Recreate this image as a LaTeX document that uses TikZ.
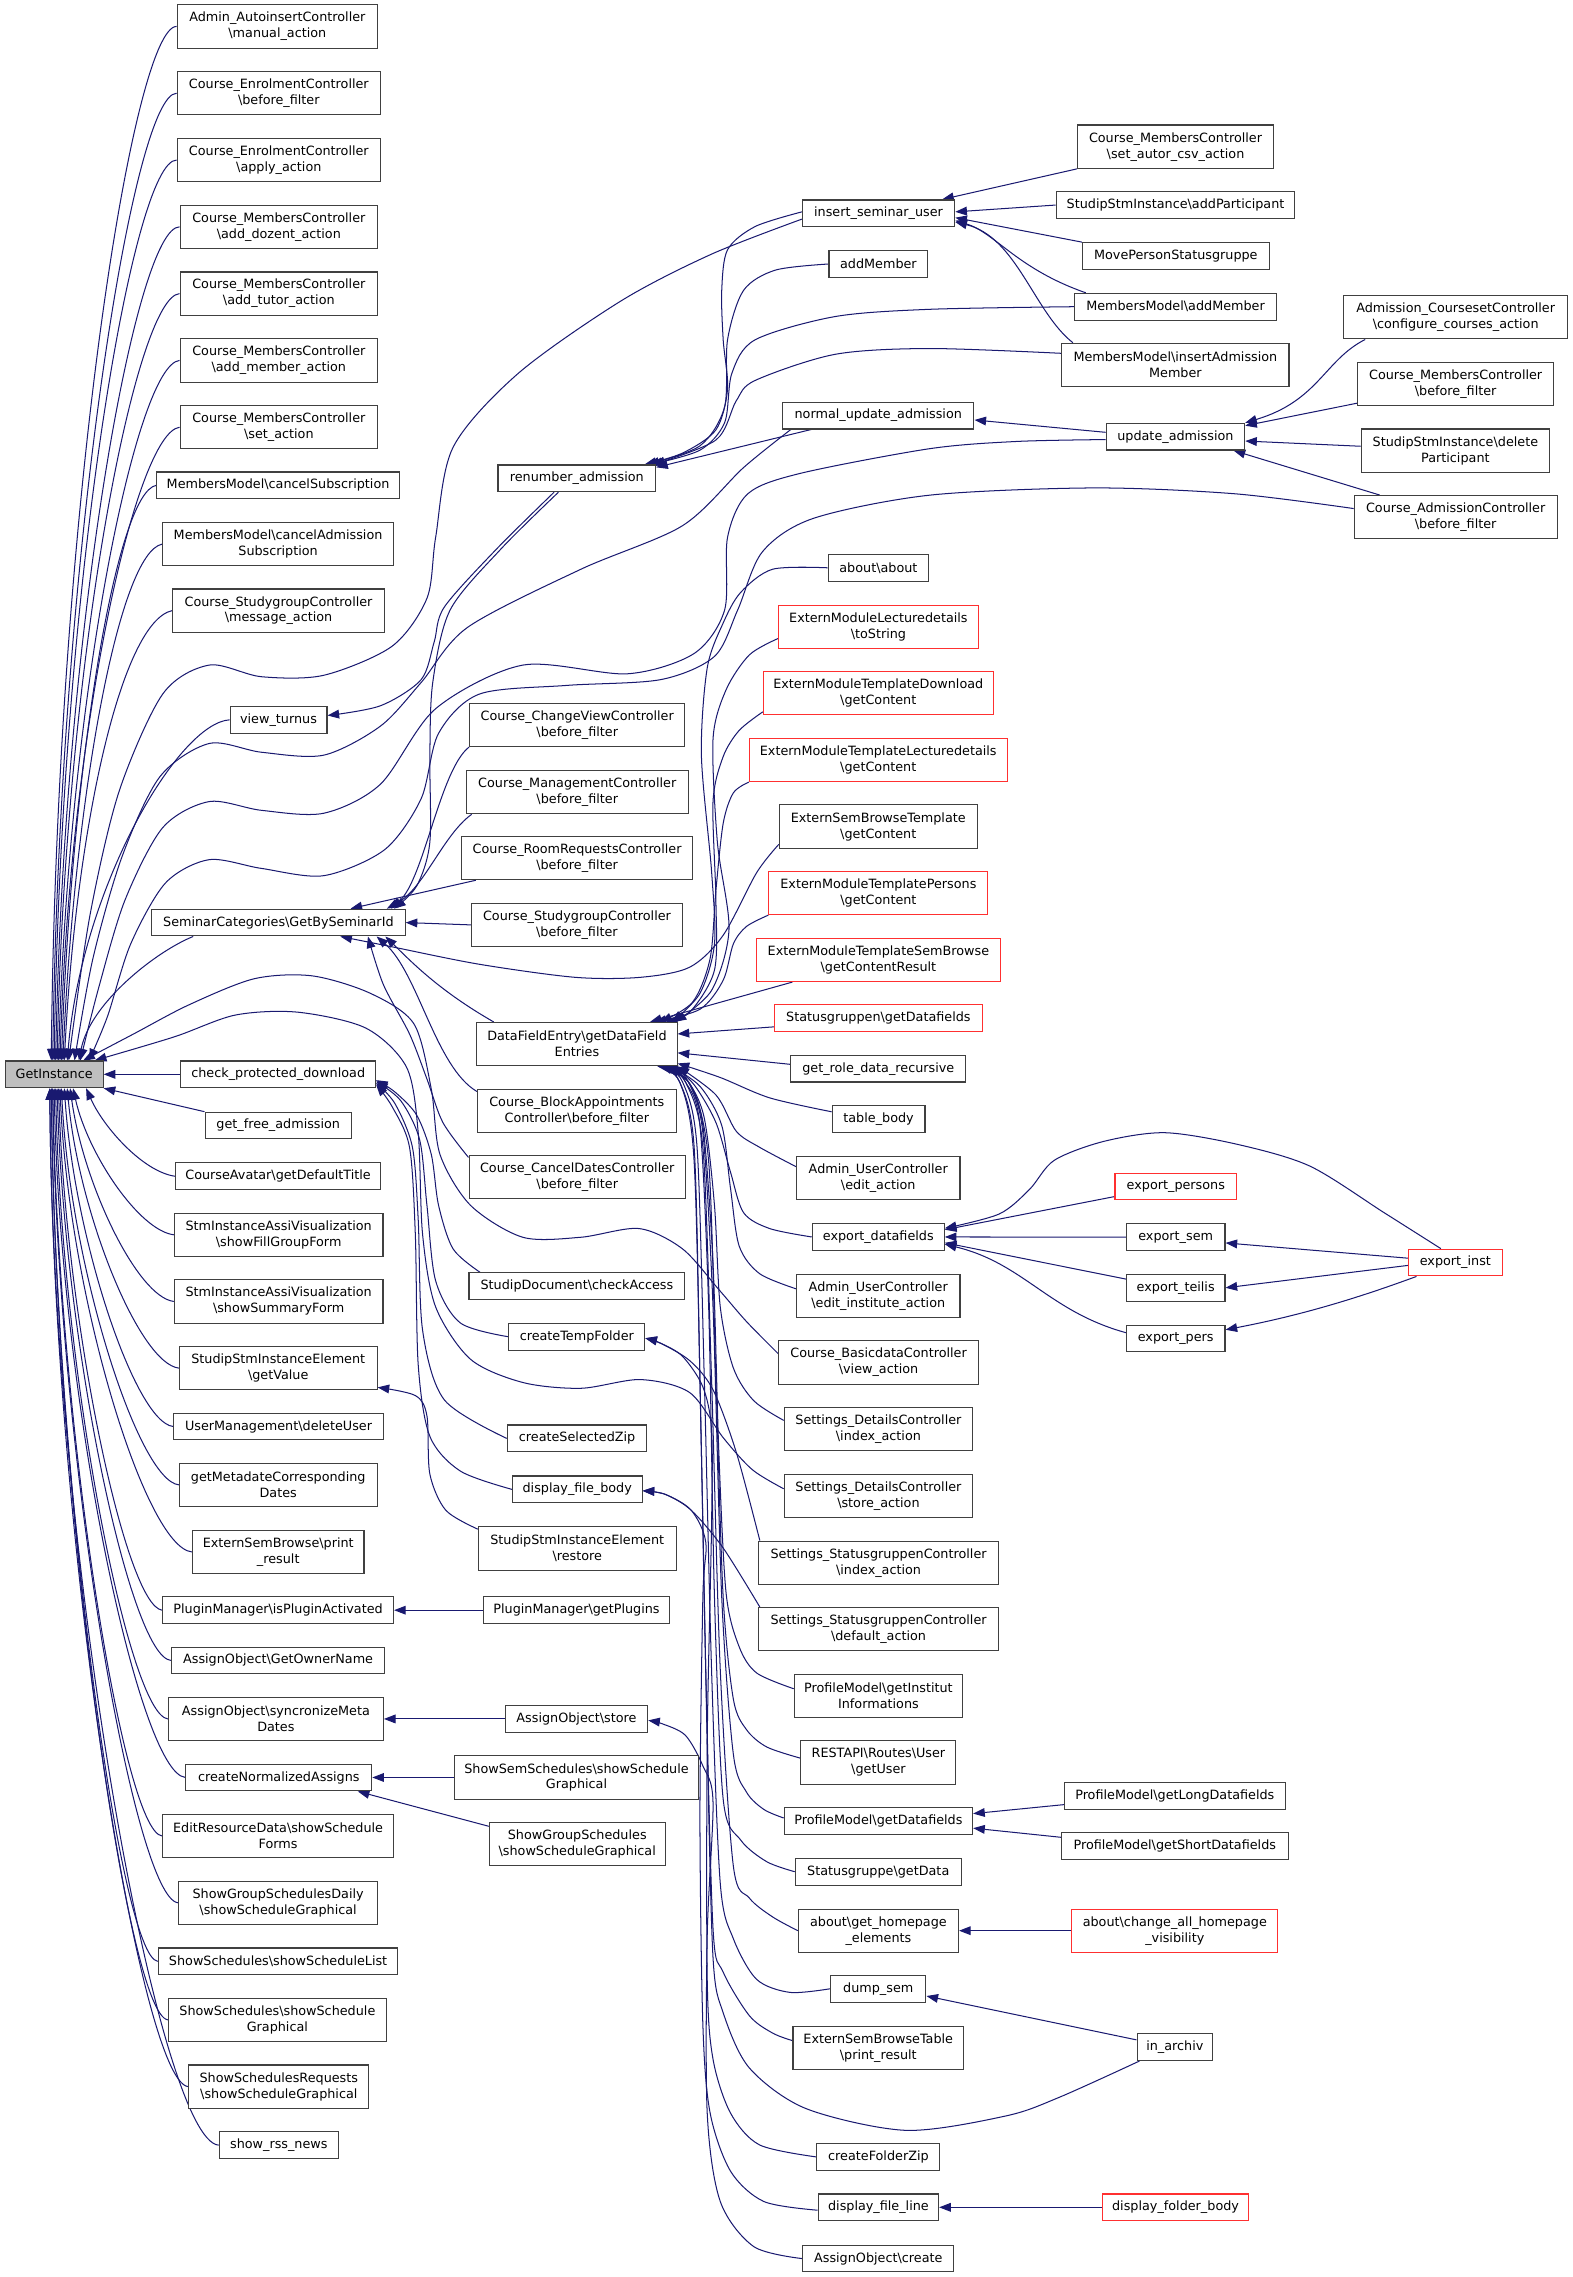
\documentclass[tikz,border=0pt]{standalone}
\usepackage{fontspec}
\setmainfont{DejaVu Sans}
\usetikzlibrary{arrows.meta}
\definecolor{edgec}{HTML}{191970}
\definecolor{bord}{HTML}{404040}
\definecolor{redb}{HTML}{FF3030}
\definecolor{gifill}{HTML}{BFBFBF}
\newcommand\bsl{\textbackslash}
\newcommand\nd[7]{\node[#1, minimum width=#5pt, minimum height=#6pt] (#2) at (#3,#4) {#7};}
\pgfdeclarelayer{bg}
\pgfsetlayers{bg,main}
\begin{document}
\begin{tikzpicture}[x=1pt,y=-1pt,
  bx/.style={draw=bord, line width=0.75pt, fill=white, inner sep=0pt, align=center, font=\fontsize{8.8}{11}\selectfont},
  rb/.style={bx, draw=redb},
  gbx/.style={bx, fill=gifill},
  edg/.style={draw=edgec, line width=0.7pt, -{Triangle[length=8pt,width=6pt]}}]
\useasboundingbox (0,0) rectangle (1083,1568);
% ---------- column 1
\nd{gbx}{gi}{37.3}{739.8}{67.4}{18.4}{GetInstance}
\nd{bx}{c1}{191}{18.2}{138}{29.8}{Admin\_AutoinsertController\\ \bsl manual\_action}
\nd{bx}{c2}{192}{64.2}{140}{29.8}{Course\_EnrolmentController\\ \bsl before\_filter}
\nd{bx}{c3}{192}{110.2}{140}{29.8}{Course\_EnrolmentController\\ \bsl apply\_action}
\nd{bx}{c4}{192}{156.2}{136}{29.8}{Course\_MembersController\\ \bsl add\_dozent\_action}
\nd{bx}{c5}{192}{202.2}{136}{29.8}{Course\_MembersController\\ \bsl add\_tutor\_action}
\nd{bx}{c6}{192}{248.2}{136}{29.8}{Course\_MembersController\\ \bsl add\_member\_action}
\nd{bx}{c7}{192}{294.2}{136}{29.8}{Course\_MembersController\\ \bsl set\_action}
\nd{bx}{c8}{191.5}{334.2}{167}{18.4}{MembersModel\bsl cancelSubscription}
\nd{bx}{c9}{191.5}{374.7}{159}{29.8}{MembersModel\bsl cancelAdmission\\ Subscription}
\nd{bx}{c10}{191.8}{420.5}{146}{29.8}{Course\_StudygroupController\\ \bsl message\_action}
\nd{bx}{c11}{191.8}{495.7}{66.7}{18.4}{view\_turnus}
\nd{bx}{c12}{191.7}{635.3}{174.6}{18.4}{SeminarCategories\bsl GetBySeminarId}
\nd{bx}{c14}{191.6}{739.8}{134}{18.4}{check\_protected\_download}
\nd{bx}{c15}{191.6}{775.1}{100.8}{18.4}{get\_free\_admission}
\nd{bx}{c16}{191.5}{810}{141}{18.4}{CourseAvatar\bsl getDefaultTitle}
\nd{bx}{c17}{191.9}{850.3}{143.7}{29.8}{StmInstanceAssiVisualization\\ \bsl showFillGroupForm}
\nd{bx}{c18}{191.9}{896.2}{143.7}{29.8}{StmInstanceAssiVisualization\\ \bsl showSummaryForm}
\nd{bx}{c19}{191.6}{942.1}{136.1}{29.8}{StudipStmInstanceElement\\ \bsl getValue}
\nd{bx}{c20}{191.8}{982.3}{144.5}{18.4}{UserManagement\bsl deleteUser}
\nd{bx}{c21}{191.6}{1022.5}{136.1}{29.8}{getMetadateCorresponding\\ Dates}
\nd{bx}{c22}{191.6}{1068.7}{118.1}{29.8}{ExternSemBrowse\bsl print\\ \_result}
\nd{bx}{c23}{191.5}{1108.8}{159}{18.4}{PluginManager\bsl isPluginActivated}
\nd{bx}{c24}{191.5}{1143.4}{147}{18.4}{AssignObject\bsl GetOwnerName}
\nd{bx}{c25}{190}{1183.7}{148}{29.8}{AssignObject\bsl syncronizeMeta\\ Dates}
\nd{bx}{c26}{192}{1224}{128}{18.4}{createNormalizedAssigns}
\nd{bx}{c27}{191.5}{1264.3}{159}{29.8}{EditResourceData\bsl showSchedule\\ Forms}
\nd{bx}{c28}{191.5}{1310.3}{137}{29.8}{ShowGroupSchedulesDaily\\ \bsl showScheduleGraphical}
\nd{bx}{c29}{191.5}{1350.6}{165}{18.4}{ShowSchedules\bsl showScheduleList}
\nd{bx}{c30}{191}{1390.9}{150}{29.8}{ShowSchedules\bsl showSchedule\\ Graphical}
\nd{bx}{c31}{192}{1436.9}{124}{29.8}{ShowSchedulesRequests\\ \bsl showScheduleGraphical}
\nd{bx}{c32}{192}{1477.2}{82}{18.4}{show\_rss\_news}
% ---------- column 2
\nd{bx}{r2}{397.2}{329.4}{108.6}{18.4}{renumber\_admission}
\nd{bx}{cv}{397.5}{499.2}{148.3}{29.8}{Course\_ChangeViewController\\ \bsl before\_filter}
\nd{bx}{mgmt}{397.5}{545.5}{152.7}{29.8}{Course\_ManagementController\\ \bsl before\_filter}
\nd{bx}{room}{397.4}{590.9}{158.8}{29.8}{Course\_RoomRequestsController\\ \bsl before\_filter}
\nd{bx}{sgbf}{397.3}{636.9}{145.1}{29.8}{Course\_StudygroupController\\ \bsl before\_filter}
\nd{bx}{dfe}{397.3}{719}{137.9}{29.8}{DataFieldEntry\bsl getDataField\\ Entries}
\nd{bx}{block}{397.2}{764.9}{136.8}{29.8}{Course\_BlockAppointments\\ Controller\bsl before\_filter}
\nd{bx}{cancel}{397.5}{810.3}{149}{29.8}{Course\_CancelDatesController\\ \bsl before\_filter}
\nd{bx}{checkacc}{397.3}{885.7}{148.7}{18.4}{StudipDocument\bsl checkAccess}
\nd{bx}{tempf}{397.2}{920.5}{93.6}{18.4}{createTempFolder}
\nd{bx}{selzip}{397.4}{990.5}{96.2}{18.4}{createSelectedZip}
\nd{bx}{dfb}{397.5}{1025.6}{89.3}{18.4}{display\_file\_body}
\nd{bx}{restore}{397.5}{1066.3}{136.1}{29.8}{StudipStmInstanceElement\\ \bsl restore}
\nd{bx}{getplugins}{397}{1108.8}{128}{18.4}{PluginManager\bsl getPlugins}
\nd{bx}{store}{397}{1183.7}{98}{18.4}{AssignObject\bsl store}
\nd{bx}{semsched}{397}{1224}{168}{29.8}{ShowSemSchedules\bsl showSchedule\\ Graphical}
\nd{bx}{grpsched}{397.5}{1269.9}{121}{29.8}{ShowGroupSchedules\\ \bsl showScheduleGraphical}
% ---------- column 3
\nd{bx}{isu}{605}{146.9}{104.9}{18.4}{insert\_seminar\_user}
\nd{bx}{addm}{604.9}{181.8}{68.1}{18.4}{addMember}
\nd{bx}{nua}{604.8}{286.2}{131.7}{18.4}{normal\_update\_admission}
\nd{bx}{about}{604.9}{391}{69.1}{18.4}{about\bsl about}
\nd{rb}{emlt}{604.9}{431.7}{137.5}{29.8}{ExternModuleLecturedetails\\ \bsl toString}
\nd{rb}{emtd}{604.8}{477.2}{158.3}{29.8}{ExternModuleTemplateDownload\\ \bsl getContent}
\nd{rb}{emtl}{604.8}{523.3}{177.5}{29.8}{ExternModuleTemplateLecturedetails\\ \bsl getContent}
\nd{bx}{esbt}{604.8}{569.2}{136.3}{29.8}{ExternSemBrowseTemplate\\ \bsl getContent}
\nd{rb}{emtp}{604.9}{614.9}{150.8}{29.8}{ExternModuleTemplatePersons\\ \bsl getContent}
\nd{rb}{emts}{604.9}{661}{167.7}{29.8}{ExternModuleTemplateSemBrowse\\ \bsl getContentResult}
\nd{rb}{sgdf}{604.9}{701.1}{142.9}{18.4}{Statusgruppen\bsl getDatafields}
\nd{bx}{grdr}{604.8}{735.9}{120.7}{18.4}{get\_role\_data\_recursive}
\nd{bx}{tbody}{605}{770.6}{63.9}{18.4}{table\_body}
\nd{bx}{uedit}{604.8}{811.4}{112.5}{29.8}{Admin\_UserController\\ \bsl edit\_action}
\nd{bx}{expdf}{604.8}{851.8}{90.9}{18.4}{export\_datafields}
\nd{bx}{uinst}{604.8}{892.5}{112.5}{29.8}{Admin\_UserController\\ \bsl edit\_institute\_action}
\nd{bx}{basic}{605}{938.3}{137.2}{29.8}{Course\_BasicdataController\\ \bsl view\_action}
\nd{bx}{sdindex}{604.9}{984.1}{129.7}{29.8}{Settings\_DetailsController\\ \bsl index\_action}
\nd{bx}{sdstore}{604.9}{1030.2}{129.7}{29.8}{Settings\_DetailsController\\ \bsl store\_action}
\nd{bx}{ssindex}{605}{1076.1}{164.8}{29.8}{Settings\_StatusgruppenController\\ \bsl index\_action}
\nd{bx}{ssdefault}{605}{1121.9}{164.8}{29.8}{Settings\_StatusgruppenController\\ \bsl default\_action}
\nd{bx}{pminst}{604.9}{1167.9}{115.9}{29.8}{ProfileModel\bsl getInstitut\\ Informations}
\nd{bx}{rest}{604.9}{1213.7}{106.7}{29.8}{RESTAPI\bsl Routes\bsl User\\ \bsl getUser}
\nd{bx}{pmdf}{604.9}{1253.9}{129.7}{18.4}{ProfileModel\bsl getDatafields}
\nd{bx}{sgdata}{604.8}{1288.9}{114.3}{18.4}{Statusgruppe\bsl getData}
\nd{bx}{homeel}{604.9}{1329.5}{110.3}{29.8}{about\bsl get\_homepage\\ \_elements}
\nd{bx}{dump}{604.8}{1369.5}{65.6}{18.4}{dump\_sem}
\nd{bx}{esbtable}{604.8}{1410.2}{117.5}{29.8}{ExternSemBrowseTable\\ \bsl print\_result}
\nd{bx}{cfz}{604.9}{1485.3}{84.7}{18.4}{createFolderZip}
\nd{bx}{dfl}{604.9}{1520}{82.9}{18.4}{display\_file\_line}
\nd{bx}{aocreate}{604.8}{1555.3}{104.1}{18.4}{AssignObject\bsl create}
% ---------- column 4
\nd{bx}{autorcsv}{809.5}{101}{134.9}{29.8}{Course\_MembersController\\ \bsl set\_autor\_csv\_action}
\nd{bx}{addpart}{809.5}{141.2}{164.3}{18.4}{StudipStmInstance\bsl addParticipant}
\nd{bx}{moveps}{809.7}{176.3}{128.7}{18.4}{MovePersonStatusgruppe}
\nd{bx}{mmadd}{809.5}{211.2}{138.9}{18.4}{MembersModel\bsl addMember}
\nd{bx}{mmins}{809.4}{251.3}{156.4}{29.8}{MembersModel\bsl insertAdmission\\ Member}
\nd{bx}{upadm}{809.4}{300.7}{95.4}{18.4}{update\_admission}
\nd{rb}{exppersons}{809.7}{817}{83.8}{18.4}{export\_persons}
\nd{bx}{expsem}{809.6}{851.9}{67.9}{18.4}{export\_sem}
\nd{bx}{expteilis}{809.6}{886.8}{67.9}{18.4}{export\_teilis}
\nd{bx}{exppers}{809.6}{921.7}{67.9}{18.4}{export\_pers}
\nd{bx}{pmlong}{809}{1236.7}{152}{18.4}{ProfileModel\bsl getLongDatafields}
\nd{bx}{pmshort}{809}{1271.2}{156}{18.4}{ProfileModel\bsl getShortDatafields}
\nd{rb}{chvis}{809}{1329.5}{142}{29.8}{about\bsl change\_all\_homepage\\ \_visibility}
\nd{bx}{inarch}{809}{1409.7}{52}{18.4}{in\_archiv}
\nd{rb}{dfolder}{809.5}{1520}{101}{18.4}{display\_folder\_body}
% ---------- column 5
\nd{bx}{acs}{1002.4}{218.5}{153.9}{29.8}{Admission\_CoursesetController\\ \bsl configure\_courses\_action}
\nd{bx}{cmbf}{1002.4}{264.4}{135.3}{29.8}{Course\_MembersController\\ \bsl before\_filter}
\nd{bx}{sdel}{1002.2}{310.3}{129.8}{29.8}{StudipStmInstance\bsl delete\\ Participant}
\nd{bx}{cabf}{1002.4}{356.2}{139.7}{29.8}{Course\_AdmissionController\\ \bsl before\_filter}
\nd{rb}{expinst}{1002.2}{869.4}{64.8}{18.4}{export\_inst}

\begin{pgfonlayer}{bg}
\fill[white] (0,0) rectangle (1083,1568);
% column 1 (above) -> GetInstance
\draw[edg] (c1.west) .. controls +(-30,0) and +(4,-380) .. ([xshift=-2pt]gi.north);
\draw[edg] (c2.west) .. controls +(-30,0) and +(5,-350) .. ([xshift=-1pt]gi.north);
\draw[edg] (c3.west) .. controls +(-30,0) and +(5,-330) .. (gi.north);
\draw[edg] (c4.west) .. controls +(-30,0) and +(6,-300) .. ([xshift=1pt]gi.north);
\draw[edg] (c5.west) .. controls +(-30,2) and +(6,-280) .. ([xshift=2pt]gi.north);
\draw[edg] (c6.west) .. controls +(-30,3) and +(7,-250) .. ([xshift=3pt]gi.north);
\draw[edg] (c7.west) .. controls +(-30,4) and +(7,-230) .. ([xshift=4pt]gi.north);
\draw[edg] (c8.west) .. controls +(-28,5) and +(7,-200) .. ([xshift=5pt]gi.north);
\draw[edg] (c9.west) .. controls +(-30,6) and +(8,-180) .. ([xshift=6pt]gi.north);
\draw[edg] (c10.west) .. controls +(-35,8) and +(8,-160) .. ([xshift=7pt]gi.north);
\draw[edg] (c11.west) .. controls +(-35,2) and +(10,-120) .. ([xshift=9pt]gi.north);
\draw[edg] ([xshift=29pt]c12.south west) .. controls +(-25,10) and +(8,-40) .. ([xshift=17pt]gi.north);
% column 1 (below) -> GetInstance
\draw[edg] (c14.west) -- (gi.east);
\draw[edg] (c15.north west) -- (gi.south east);
\draw[edg] (c16.west) .. controls +(-22,-3) and +(12,27) .. ([xshift=22pt]gi.south);
\draw[edg] (c17.west) .. controls +(-24,-3) and +(10,45) .. ([xshift=13pt]gi.south);
\draw[edg] (c18.west) .. controls +(-25,-3) and +(9,66) .. ([xshift=11pt]gi.south);
\draw[edg] (c19.west) .. controls +(-27,-3) and +(8,87) .. ([xshift=9pt]gi.south);
\draw[edg] (c20.west) .. controls +(-26,-3) and +(7,105) .. ([xshift=7pt]gi.south);
\draw[edg] (c21.west) .. controls +(-28,-3) and +(6,123) .. ([xshift=5pt]gi.south);
\draw[edg] (c22.west) .. controls +(-32,-3) and +(6,144) .. ([xshift=4pt]gi.south);
\draw[edg] (c23.west) .. controls +(-25,-3) and +(5,162) .. ([xshift=3pt]gi.south);
\draw[edg] (c24.west) .. controls +(-28,-3) and +(5,177) .. ([xshift=2pt]gi.south);
\draw[edg] (c25.west) .. controls +(-27,-3) and +(4,196) .. ([xshift=1pt]gi.south);
\draw[edg] (c26.west) .. controls +(-32,-3) and +(4,214) .. (gi.south);
\draw[edg] (c27.west) .. controls +(-27,-3) and +(4,232) .. ([xshift=-1pt]gi.south);
\draw[edg] (c28.west) .. controls +(-30,-3) and +(3,253) .. ([xshift=-1pt]gi.south);
\draw[edg] (c29.west) .. controls +(-26,-3) and +(3,271) .. ([xshift=-2pt]gi.south);
\draw[edg] (c30.west) .. controls +(-28,-3) and +(3,289) .. ([xshift=-2pt]gi.south);
\draw[edg] (c31.west) .. controls +(-33,-3) and +(2,310) .. ([xshift=-3pt]gi.south);
\draw[edg] (c32.west) .. controls +(-41,-3) and +(2,328) .. ([xshift=-3pt]gi.south);
% long edges into GetInstance
\draw[edg] plot[smooth] coordinates {([yshift=-4pt]isu.west) (490,175) (428,207) (357,257) (312,308) (300,370) (294,412) (270,445) (223,465) (180,466) (144,458) (112,478) (82,545) (62,630) ([xshift=10pt]gi.north)};
\draw[edg] plot[smooth] coordinates {([xshift=6pt]nua.south west) (512,322) (470,362) (400,392) (322,432) (290,470) (262,500) (223,520) (180,518) (144,512) (110,535) (84,590) (64,660) ([xshift=14pt]gi.north)};
\draw[edg] plot[smooth] coordinates {([yshift=-2pt]upadm.west) (700,304) (640,309) (551,326) (515,340) (501,370) (499,420) (478,450) (432,464) (360,458) (300,488) (262,540) (223,560) (180,558) (144,552) (112,570) (86,620) (68,680) ([xshift=18pt]gi.north)};
\draw[edg] plot[smooth] coordinates {([yshift=6pt]cabf.west) (850,340) (753,336) (640,341) (560,357) (525,380) (508,420) (492,452) (455,468) (390,472) (330,478) (302,505) (290,550) (265,585) (223,603) (180,598) (144,592) (114,608) (90,650) (74,700) ([xshift=24pt]gi.north)};
\draw[edg] plot[smooth] coordinates {([yshift=6pt]basic.west) (514,910) (495,888) (470,860) (440,846) (400,852) (360,852) (324,830) (303,795) (297,750) (285,705) (255,684) (215,672) (175,674) (130,692) (92,712) ([xshift=20pt]gi.north)};
\draw[edg] plot[smooth] coordinates {([yshift=5pt]sdstore.west) (518,1012) (498,990) (475,959) (441,950) (400,956) (360,952) (324,936) (300,900) (291,850) (288,780) (280,735) (252,708) (205,697) (162,699) (120,714) ([xshift=28pt]gi.north)};
% into SeminarCategories / view_turnus
\draw[edg] plot[smooth] coordinates {([xshift=42pt]r2.south west) (345,378) (310,420) (298,470) (296,520) (296,580) (287,610) ([xshift=-8pt]c12.north east)};
\draw[edg] plot[smooth] coordinates {([xshift=39pt]r2.south west) (342,378) (306,418) (299,442) (290,468) (262,486) ([yshift=3pt]c11.east)};
\draw[edg] (cv.south west) .. controls (303,530) and (292,605) .. ([xshift=-10pt]c12.north east);
\draw[edg] ([xshift=4pt]mgmt.south west) .. controls (305,575) and (292,612) .. ([xshift=-13pt]c12.north east);
\draw[edg] ([xshift=10pt]room.south west) -- ([xshift=-38pt]c12.north east);
\draw[edg] (sgbf.west) -- (c12.east);
\draw[edg] ([xshift=12pt]dfe.north west) .. controls (302,682) and (283,662) .. ([xshift=-14pt]c12.south east);
\draw[edg] ([yshift=-2pt]block.north west) .. controls (300,735) and (288,670) .. ([xshift=-20pt]c12.south east);
\draw[edg] plot[smooth] coordinates {([yshift=-2pt]cancel.north west) (305,773) (294,743) (282,712) (264,678) ([xshift=-26pt]c12.south east)};
\draw[edg] plot[smooth] coordinates {([yshift=3pt]esbt.south west) (521,601) (498,644) (475,666) (441,673) (396,673) (330,664) (270,652) ([xshift=-45pt]c12.south east)};
% into check_protected_download
\draw[edg] plot[smooth] coordinates {([xshift=8pt]checkacc.north west) (312,860) (302,830) (297,795) (287,768) (272,752) ([yshift=-4pt]c14.east)};
\draw[edg] plot[smooth] coordinates {(tempf.west) (317,911) (300,882) (294,830) (289,785) (276,758) ([yshift=-5pt]c14.east)};
\draw[edg] plot[smooth] coordinates {(selzip.west) (306,964) (291,916) (288,840) (284,790) (272,760) ([yshift=-6pt]c14.east)};
\draw[edg] plot[smooth] coordinates {(dfb.west) (317,1013) (296,989) (288,940) (286,850) (282,790) (270,762) ([yshift=-7pt]c14.east)};
% other column 2 -> column 1
\draw[edg] plot[smooth] coordinates {([yshift=-2pt]restore.north west) (307,1040) (296,1015) (294,975) (286,961) ([yshift=2pt]c19.south east)};
\draw[edg] (getplugins.west) -- (c23.east);
\draw[edg] (store.west) -- (c25.east);
\draw[edg] (semsched.west) -- (c26.east);
\draw[edg] ([yshift=-3pt]grpsched.north west) -- ([xshift=-10pt]c26.south east);
% upper right
\draw[edg] (autorcsv.south west) -- ([xshift=-9pt]isu.north east);
\draw[edg] (addpart.west) -- ([yshift=1pt]isu.east);
\draw[edg] (moveps.north west) -- ([yshift=-3pt]isu.east);
\draw[edg] ([xshift=8pt]mmadd.north west) .. controls (700,185) and (685,160) .. ([yshift=-5pt]isu.east);
\draw[edg] ([xshift=8pt]mmins.north west) .. controls (712,215) and (700,163) .. ([yshift=-6pt]isu.east);
\draw[edg] plot[smooth] coordinates {([yshift=1pt]isu.west) (520,156) (501,172) (497,200) (498,234) (501,268) (493,296) (470,312) ([xshift=-8pt]r2.north east)};
\draw[edg] plot[smooth] coordinates {(addm.west) (534,186) (512,200) (501,234) (499,280) (482,307) ([xshift=-6pt]r2.north east)};
\draw[edg] plot[smooth] coordinates {(mmadd.west) (640,213) (575,218) (520,234) (504,257) (499,291) (482,310) ([xshift=-4pt]r2.north east)};
\draw[edg] plot[smooth] coordinates {([yshift=8pt]mmins.west) (640,240) (575,244) (520,262) (507,276) (493,303) ([xshift=-2pt]r2.north east)};
\draw[edg] ([xshift=20pt]nua.south west) -- ([yshift=-2pt]r2.north east);
\draw[edg] ([yshift=3pt]upadm.west) -- ([yshift=-3pt]nua.east);
\draw[edg] ([xshift=15pt]acs.south west) .. controls (912,248) and (908,276) .. (upadm.north east);
\draw[edg] ([yshift=2pt]cmbf.south west) -- ([yshift=-2pt]upadm.north east);
\draw[edg] ([yshift=3pt]sdel.west) -- ([yshift=-3pt]upadm.east);
\draw[edg] ([xshift=18pt]cabf.north west) -- ([xshift=-8pt]upadm.south east);
% into DataFieldEntry from above
\draw[edg] plot[smooth] coordinates {(about.west) (532,392) (510,408) (498,429) (487,460) (483,520) (490,600) (492,650) (482,684) ([xshift=-4pt]dfe.north east)};
\draw[edg] plot[smooth] coordinates {([yshift=-8pt]emlt.west) (516,451) (500,475) (491,509) (494,580) (502,640) (490,682) ([xshift=-2pt]dfe.north east)};
\draw[edg] plot[smooth] coordinates {([yshift=-13pt]emtd.west) (509,503) (498,521) (491,552) (493,620) (492,668) (475,697) ([xshift=-8pt]dfe.north east)};
\draw[edg] plot[smooth] coordinates {(emtl.south west) (505,546) (498,567) (493,613) (489,660) (477,690) ([xshift=-12pt]dfe.north east)};
\draw[edg] plot[smooth] coordinates {(emtp.south west) (514,638) (505,650) (498,675) (482,695) ([xshift=-16pt]dfe.north east)};
\draw[edg] ([xshift=25pt]emts.south west) -- ([xshift=-19pt]dfe.north east);
\draw[edg] ([yshift=-6pt]sgdf.west) -- ([yshift=7pt]dfe.east);
\draw[edg] ([yshift=3pt]grdr.west) -- ([yshift=-6pt]dfe.east);
% into DataFieldEntry from below
\draw[edg] plot[smooth] coordinates {([yshift=5pt]tbody.west) (530,756) (496,742) ([yshift=2pt]dfe.south east)};
\draw[edg] plot[smooth] coordinates {([yshift=8pt]uedit.west) (523,790) (507,779) (493,754) (dfe.south east)};
\draw[edg] plot[smooth] coordinates {(expdf.west) (530,846) (512,835) (503,807) (493,773) (478,747) ([xshift=-3pt]dfe.south east)};
\draw[edg] plot[smooth] coordinates {([yshift=5pt]uinst.west) (523,877) (509,858) (503,818) (497,775) (482,748) ([xshift=-5pt]dfe.south east)};
\draw[edg] plot[smooth] coordinates {([yshift=6pt]sdindex.west) (519,964.5) (505,942) (496,900) (492,830) (485,770) (474,745) ([xshift=-7pt]dfe.south east)};
\draw[edg] plot[smooth] coordinates {([yshift=5pt]pminst.west) (521,1152) (509,1134) (500,1097) (495,1000) (491,870) (484,775) (474,745) ([xshift=-9pt]dfe.south east)};
\draw[edg] plot[smooth] coordinates {([yshift=3pt]rest.west) (528,1203) (514,1191) (505,1170) (498,1100) (493,950) (488,800) (476,748) ([xshift=-11pt]dfe.south east)};
\draw[edg] plot[smooth] coordinates {([yshift=2pt]pmdf.west) (526,1246) (514,1234) (505,1208) (497,1100) (491,900) (484,780) (474,745) ([xshift=-4pt]dfe.south east)};
\draw[edg] plot[smooth] coordinates {(sgdata.west) (528,1282) (510,1267) (498,1239) (492,1100) (488,900) (482,775) (472,745) ([xshift=-6pt]dfe.south east)};
\draw[edg] plot[smooth] coordinates {(homeel.west) (532,1320) (516,1307) (505,1285) (496,1150) (490,950) (484,790) (472,745) ([xshift=-8pt]dfe.south east)};
\draw[edg] plot[smooth] coordinates {(dump.west) (544,1372) (521,1363) (505,1335) (496,1297) (490,1150) (485,950) (480,790) (470,745) ([xshift=-10pt]dfe.south east)};
\draw[edg] plot[smooth] coordinates {([yshift=5pt]esbtable.west) (532,1400) (516,1388) (498,1358) (491,1328) (486,1150) (482,950) (478,790) (468,745) ([xshift=-12pt]dfe.south east)};
\draw[edg] plot[smooth] coordinates {([xshift=2pt]inarch.south west) (730,1444) (693,1457) (624,1467) (555,1452) (516,1424) (498,1386) (491,1348) (487,1200) (483,1000) (478,800) (468,745) ([xshift=-14pt]dfe.south east)};
% into lower column 2
\draw[edg] plot[smooth] coordinates {(cfz.west) (523,1477) (503,1455) (491,1418) (487,1363) (487,1200) (490,1050) (490,985) (484,955) (470,934) (455,925) ([yshift=-1pt]tempf.east)};
\draw[edg] plot[smooth] coordinates {([xshift=1pt]ssindex.north west) (507,1000) (491,957) (475,937) (455,925) ([yshift=-1pt]tempf.east)};
\draw[edg] plot[smooth] coordinates {([yshift=-2pt]dfl.west) (526,1516) (503,1495) (489,1455) (484,1394) (482,1250) (484,1100) (486,1062) (476,1040) (458,1029) ([yshift=-1pt]dfb.east)};
\draw[edg] plot[smooth] coordinates {([xshift=1pt]ssdefault.north west) (498,1066) (476,1040) (458,1029) ([yshift=-1pt]dfb.east)};
\draw[edg] plot[smooth] coordinates {(aocreate.west) (519,1547) (496,1516) (487,1455) (487,1333) (491,1241) (484,1216) (472,1195) (456,1187) ([yshift=-1pt]store.east)};
% column 4/5 -> column 3/4 (lower)
\draw[edg] ([yshift=-7pt]exppersons.west) -- ([yshift=5pt]expdf.east);
\draw[edg] (expsem.west) -- (expdf.east);
\draw[edg] ([yshift=6pt]expteilis.west) -- ([yshift=-4pt]expdf.east);
\draw[edg] ([yshift=4pt]exppers.west) .. controls (722,903) and (705,870) .. ([yshift=-5pt]expdf.east);
\draw[edg] plot[smooth] coordinates {([xshift=-10pt]expinst.north) (953,835) (902,803) (852,788) (802,780) (760,786) (726,799) (709,819) (688,836) ([yshift=6pt]expdf.east)};
\draw[edg] ([yshift=3pt]expinst.west) -- ([yshift=-4pt]expsem.east);
\draw[edg] ([yshift=-2pt]expinst.west) -- (expteilis.east);
\draw[edg] ([xshift=6pt]expinst.south west) .. controls (940,892) and (900,905) .. ([yshift=6pt]exppers.east);
\draw[edg] ([yshift=-6pt]pmlong.west) -- ([yshift=5pt]pmdf.east);
\draw[edg] ([yshift=6pt]pmshort.west) -- ([yshift=-5pt]pmdf.east);
\draw[edg] (chvis.west) -- (homeel.east);
\draw[edg] ([yshift=5pt]inarch.west) -- ([yshift=-5pt]dump.east);
\draw[edg] (dfolder.west) -- (dfl.east);
\end{pgfonlayer}
\end{tikzpicture}
\end{document}
